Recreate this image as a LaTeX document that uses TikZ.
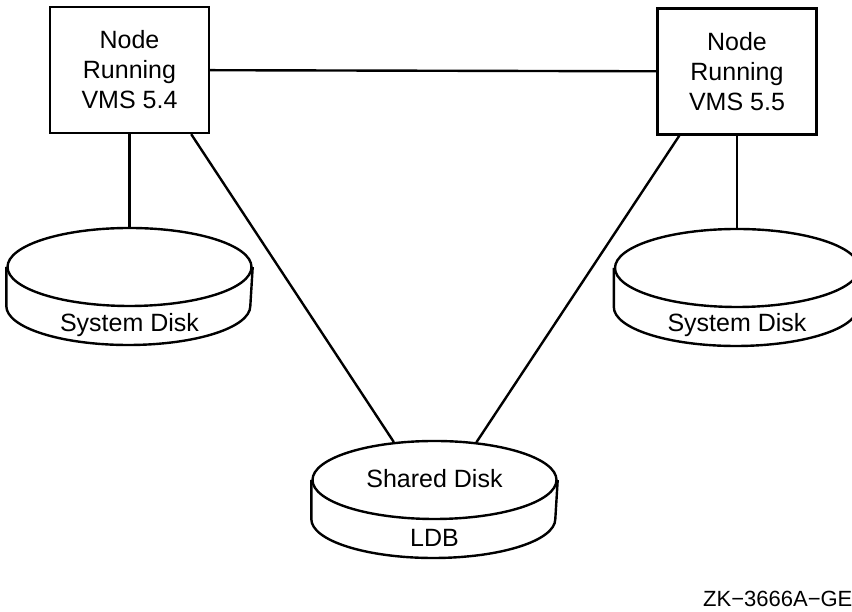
\documentclass[tikz,border=0pt]{standalone}
\usepackage{fontspec}
\setmainfont{Liberation Sans}
\usetikzlibrary{shapes,positioning}
\tikzset{
  wire/.style={line width=2.4pt},
  nodebox/.style={draw, wire, minimum width=159pt, minimum height=126pt,
    inner sep=0pt, align=center, font=\fontsize{25}{30}\selectfont},
  disktop/.style={draw, wire, ellipse, inner sep=0pt,
    minimum width=244pt, minimum height=78pt},
  disklabel/.style={anchor=base, inner sep=0pt, font=\fontsize{25}{30}\selectfont}
}
% disk: name, centre
\newcommand{\disk}[2]{
  \node[disktop] (#1) at (#2) {};
  \draw[wire] (#1.west) -- ++(0,-39)
    arc [start angle=180, end angle=360, x radius=122, y radius=39] -- (#1.east);
}

\begin{document}
\begin{tikzpicture}[x=1pt,y=1pt]
\useasboundingbox (0,0) rectangle (852,612);
\node[nodebox] (lbox) at (129.5,542) {Node\\Running\\VMS 5.4};
\node[nodebox] (rbox) at (737,540.5) {Node\\Running\\VMS 5.5};

\disk{sysa}{129.5,345}
\disk{sysb}{737,344}
\disk{shared}{434.5,132}

\node[disklabel] (sysa-text) at ([yshift=-65pt]sysa.center) {System Disk};
\node[disklabel] (sysb-text) at ([yshift=-64pt]sysb.center) {System Disk};
\node[disklabel] (shared-text) at ([yshift=-8pt]shared.center) {Shared Disk};
\node[disklabel] (ldb-text) at ([yshift=-67pt]shared.center) {LDB};

\draw[wire] (lbox) -- (rbox);
\draw[wire] (lbox) -- (sysa);
\draw[wire] (rbox) -- (sysb);
\draw[wire] ([xshift=-19pt]lbox.south east) -- (shared.137);
\draw[wire] ([xshift=23pt]rbox.south west) -- (shared.42);

\node[anchor=base west, inner sep=0pt, font=\fontsize{22}{26}\selectfont] (fig-id) at (703,5) {ZK−3666A−GE};
\end{tikzpicture}
\end{document}
